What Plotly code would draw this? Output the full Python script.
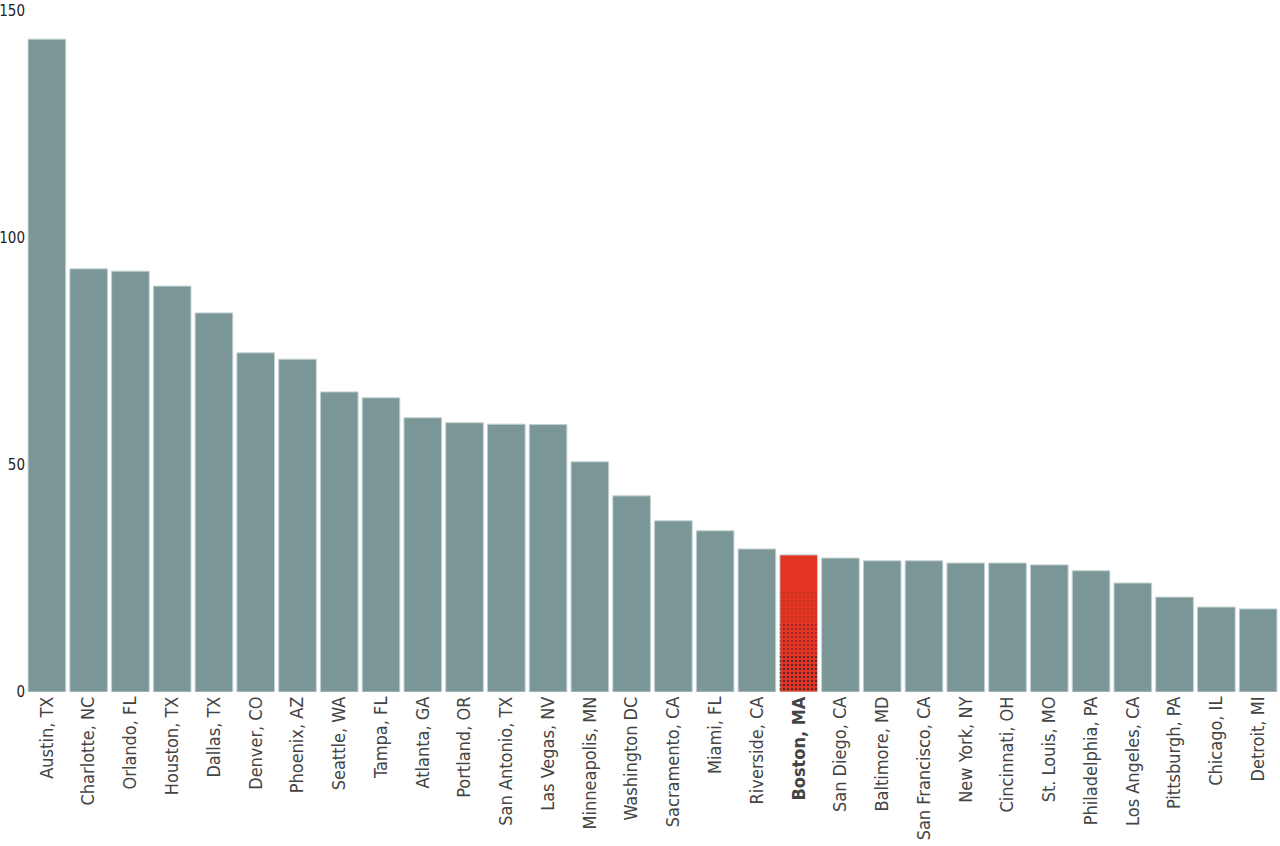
import plotly.graph_objects as go

cities = ["Austin, TX", "Charlotte, NC", "Orlando, FL", "Houston, TX", "Dallas, TX",
          "Denver, CO", "Phoenix, AZ", "Seattle, WA", "Tampa, FL", "Atlanta, GA",
          "Portland, OR", "San Antonio, TX", "Las Vegas, NV", "Minneapolis, MN",
          "Washington DC", "Sacramento, CA", "Miami, FL", "Riverside, CA", "Boston, MA",
          "San Diego, CA", "Baltimore, MD", "San Francisco, CA", "New York, NY",
          "Cincinnati, OH", "St. Louis, MO", "Philadelphia, PA", "Los Angeles, CA",
          "Pittsburgh, PA", "Chicago, IL", "Detroit, MI"]
values = [143.8, 93.2, 92.7, 89.4, 83.5, 74.7, 73.3, 66.1, 64.8, 60.4,
          59.3, 59.0, 58.9, 50.7, 43.2, 37.7, 35.5, 31.5, 30.2, 29.5,
          28.9, 28.9, 28.4, 28.4, 28.0, 26.7, 24.0, 20.9, 18.7, 18.3]
highlight = "Boston, MA"
y_ticks = [0, 50, 100, 150]

# noise layers on the highlighted bar (heights in data units, density)
noise_heights = [22.5, 15, 8]
noise_solidity = [0.08, 0.15, 0.28]

base_color = "#7a9696"
hl_color = "#e33522"
colors = [hl_color if c == highlight else base_color for c in cities]
ticktext = ["<b>%s</b>" % c if c == highlight else c for c in cities]

FONT = "DejaVu Sans Condensed, Liberation Sans Narrow, Roboto, sans-serif"

fig = go.Figure()
fig.add_trace(go.Bar(
    x=cities, y=values,
    marker=dict(color=colors, line=dict(color="#c3d0d0", width=1)),
    hoverinfo="x+y",
))
for h, s in zip(noise_heights, noise_solidity):
    fig.add_trace(go.Bar(
        x=[highlight], y=[h],
        marker=dict(color="rgba(0,0,0,0)", line=dict(width=0),
                    pattern=dict(shape=".", fgcolor="#1b1b2a", bgcolor="rgba(0,0,0,0)",
                                 size=4, solidity=s, fillmode="overlay")),
        hoverinfo="skip",
    ))

fig.update_layout(
    width=1280, height=846,
    margin=dict(l=26, r=1, t=11, b=154),
    plot_bgcolor="white", paper_bgcolor="white",
    barmode="overlay", bargap=0.1,
    showlegend=False,
    font=dict(family=FONT, color="#333333", size=16),
)
fig.update_xaxes(
    tickmode="array", tickvals=cities, ticktext=ticktext,
    tickangle=-90, tickfont=dict(size=18, family=FONT, color="#444444"),
    showgrid=False, showline=False, ticks="", zeroline=False,
    range=[-0.5, len(cities) - 0.5], automargin=False,
)
fig.update_yaxes(
    range=[0, 150], tickvals=y_ticks, showgrid=False, zeroline=False,
    showline=False, ticks="", tickfont=dict(size=15, family=FONT, color="#222222"),
    automargin=False,
)
fig.write_html("out.html")
